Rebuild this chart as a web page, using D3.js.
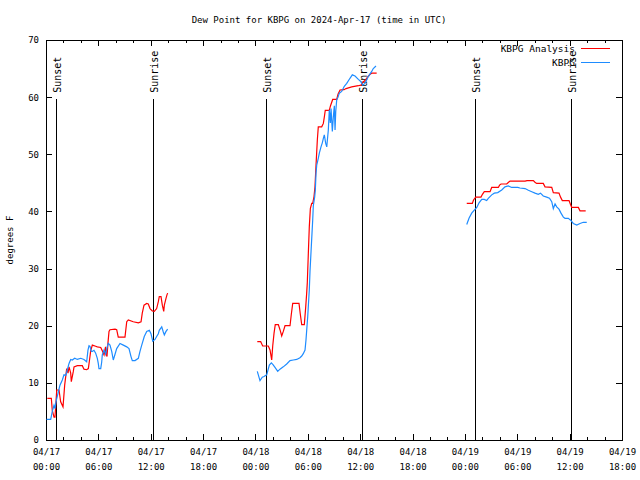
<!DOCTYPE html>
<html><head><meta charset="utf-8">
<script src="https://cdn.jsdelivr.net/npm/d3@7"></script>
<style>
html,body{margin:0;padding:0;background:#fff;}
svg{display:block;}
text{font-family:"DejaVu Sans Mono",monospace;fill:#000;}
</style></head>
<body>
<svg id="c" width="640" height="480"></svg>
<script>
// ---- data (hours after 2024-04-17 00:00 UTC; null = gap) ----
const chartTitle = "Dew Point for KBPG on 2024-Apr-17 (time in UTC)";
const yLabel = "degrees F";
const seriesNames = ["KBPG Analysis", "KBPG"];
const yTicks = [0,10,20,30,40,50,60,70];
const xTickHours = [0,6,12,18,24,30,36,42,48,54,60,66];

const analysisHours = [0.15,0.61,0.72,0.92,1.03,1.23,1.49,1.68,1.95,2.14,2.37,2.52,2.64,2.83,2.90,3.13,3.21,3.59,4.16,4.35,4.66,4.85,4.96,5.12,5.31,5.69,5.88,6.27,6.45,6.65,6.82,6.91,6.99,7.10,7.22,7.33,7.91,8.10,8.28,9.05,9.25,9.43,10.00,10.58,10.89,11.03,11.23,11.54,11.72,11.92,12.18,12.41,12.68,12.87,12.98,13.18,13.33,13.49,13.56,13.75,13.86,13.94,
 null,
 24.21,24.60,24.83,25.47,25.67,25.86,25.98,26.13,26.27,26.62,26.81,27.01,27.19,27.39,27.96,28.11,28.27,28.99,29.14,29.30,29.60,29.76,29.87,29.94,30.06,30.17,30.29,30.45,30.56,30.71,30.82,30.94,31.09,31.20,31.59,31.78,31.89,32.00,32.46,32.60,32.85,33.31,33.46,33.69,34.15,34.38,35.03,35.79,36.09,36.36,36.55,36.84,37.13,37.32,37.89,
 null,
 48.21,48.85,48.99,49.24,49.84,50.01,50.22,50.88,51.07,51.83,51.97,52.14,52.79,53.00,53.17,54.89,55.12,55.84,56.03,56.22,56.98,57.18,57.95,58.13,58.78,58.96,59.16,59.93,60.10,60.24,61.00,61.19,61.84];
const analysisValues = [7.3,7.3,5.2,4.0,4.0,8.75,8.75,6.7,5.8,9.6,12.5,11.7,12.8,11.7,10.2,12.0,12.8,13.0,13.0,12.4,12.3,12.5,13.7,15.6,16.6,16.4,16.3,16.2,15.6,14.9,16.3,15.0,14.6,17.0,19.0,19.3,19.4,19.3,18.0,18.0,20.7,21.0,20.7,20.5,20.7,22.2,23.6,23.9,23.8,23.0,22.6,22.5,23.0,24.2,25.1,25.1,23.6,22.5,23.6,24.8,25.4,25.7,
 null,
 17.2,17.2,16.45,16.45,15.75,14.0,16.5,18.7,20.2,20.2,19.3,18.2,19.0,20.0,20.0,22.0,23.9,23.9,22.0,20.2,20.2,23.3,25.7,27.5,32.7,37.3,40.5,41.4,41.4,42.6,44.3,48.1,52.5,54.8,54.8,55.4,56.5,57.7,57.7,58.5,59.6,59.6,60.5,61.25,61.3,61.5,61.8,62.0,62.1,62.7,62.9,63.5,64.0,64.2,64.2,
 null,
 41.4,41.4,42.0,42.5,42.5,43.0,43.45,43.45,44.2,44.2,44.6,44.8,44.8,45.1,45.3,45.3,45.4,45.4,45.1,44.9,44.9,44.3,44.2,43.3,43.2,42.5,41.9,41.9,41.2,40.7,40.7,40.1,40.1];

const obsHours = [0.06,0.23,0.54,0.72,0.92,1.03,1.15,1.38,1.60,1.87,2.06,2.26,2.44,2.64,2.83,3.01,3.29,3.59,3.98,4.35,4.66,4.81,4.93,5.04,5.19,5.31,5.50,5.69,5.88,5.99,6.07,6.27,6.38,6.45,6.65,6.84,6.99,7.14,7.33,7.53,7.71,7.91,8.10,8.48,8.86,9.25,9.51,9.74,9.89,10.20,10.58,10.77,10.97,11.26,11.54,11.84,12.03,12.23,12.49,12.68,12.87,12.98,13.26,13.44,13.56,13.75,13.94,
 null,
 24.21,24.52,24.78,24.98,25.29,25.59,25.82,26.01,26.24,26.55,26.81,27.19,27.58,27.96,28.34,28.73,29.10,29.30,29.48,29.68,29.79,29.91,29.99,30.10,30.17,30.25,30.37,30.48,30.56,30.63,30.79,30.86,30.94,31.02,31.20,31.32,31.51,31.66,31.78,31.89,32.05,32.17,32.26,32.35,32.46,32.58,32.66,32.81,32.92,33.04,33.12,33.20,33.31,33.46,33.61,33.88,34.18,34.46,34.83,35.10,35.41,35.79,36.09,36.29,36.55,36.93,37.32,37.50,37.81,
 null,
 48.21,48.47,48.78,49.05,49.36,49.62,49.93,50.22,50.49,50.68,51.07,51.37,51.76,52.22,52.59,52.97,53.36,54.05,54.31,54.89,55.27,55.66,56.03,56.41,56.66,56.98,57.37,57.69,57.95,58.13,58.33,58.52,58.78,59.01,59.28,59.47,59.85,60.16,60.42,60.82,61.19,61.57,61.96];
const obsValues = [3.6,3.6,3.6,5.0,6.1,5.5,6.7,8.2,9.6,10.5,11.4,11.3,12.25,13.4,14.1,14.0,14.3,14.1,14.3,14.1,13.7,15.75,16.5,16.4,15.5,15.5,15.7,15.2,14.3,13.4,12.5,12.5,13.6,14.9,15.75,15.0,16.2,16.9,16.6,15.5,14.0,15.0,16.0,16.9,16.6,16.3,16.0,14.6,13.9,13.9,14.3,15.5,16.6,18.1,19.0,19.2,18.6,17.3,17.6,18.1,18.6,19.2,19.8,18.9,18.4,19.0,19.4,
 null,
 12.0,10.4,11.0,11.1,11.4,13.1,13.5,13.2,12.7,12.0,12.4,12.8,13.3,13.9,14.0,14.1,14.4,14.7,15.1,15.75,17.5,20.0,21.6,24.5,26.3,29.5,33.0,36.2,38.5,41.0,42.6,43.75,46.7,48.1,49.3,50.2,51.3,52.0,52.8,53.4,51.9,51.3,52.8,54.25,57.75,55.5,58.0,54.0,56.5,58.5,54.25,57.5,59.5,60.0,60.7,61.0,61.9,62.4,63.3,63.9,63.7,63.1,62.7,62.1,62.4,63.6,64.5,65.0,65.45,
 null,
 37.7,38.8,39.7,40.2,40.7,41.5,42.1,42.1,41.9,42.3,42.9,43.2,43.3,43.75,44.3,44.45,44.2,44.2,44.1,44.0,43.7,43.45,43.2,43.0,43.2,42.7,42.5,42.3,41.7,40.5,41.3,40.8,40.4,39.7,39.0,38.8,38.8,38.4,37.9,37.6,37.9,38.1,38.1];

const sunsetHours = [1.15, 25.21, 49.16];
const sunriseHours = [12.26, 36.21, 60.16];
const sunLineTop = 59.7;

// ---- drawing ----
const start = Date.UTC(2024, 3, 17, 0, 0);
const toDate = h => h == null ? null : new Date(start + h * 3600e3);
const svg = d3.select("#c");
const L = 46, R = 622, T = 40, B = 440;
const x = d3.scaleUtc().domain([toDate(0), toDate(66)]).range([L, R]);
const y = d3.scaleLinear().domain([0, 70]).range([B, T]);
const fs = 9;
const mono = "DejaVu Sans Mono";

svg.append("rect").attr("width",640).attr("height",480).attr("fill","#fff");

// axes
const fmtD = d3.utcFormat("%m/%d"), fmtT = d3.utcFormat("%H:%M");
const minorHours = d3.range(0, 67, 2).filter(h => h % 6 !== 0);
function axisStyle(g){ g.attr("shape-rendering","crispEdges"); g.select(".domain").remove(); g.selectAll("line").attr("stroke","#000"); g.selectAll("text").attr("font-size",fs).attr("font-family",mono).attr("fill","#000"); }

const gx = svg.append("g").attr("transform",`translate(0,${B})`)
  .call(d3.axisBottom(x).tickValues(xTickHours.map(toDate)).tickSizeInner(-6).tickSizeOuter(0).tickPadding(9).tickFormat(fmtD));
axisStyle(gx);
gx.selectAll(".tick text").each(function(d){
  const t = d3.select(this); t.text(null);
  t.append("tspan").attr("x",0).text(fmtD(d));
  t.append("tspan").attr("x",0).attr("dy",14.5).text(fmtT(d));
});
svg.append("g").attr("transform",`translate(0,${B})`)
  .call(d3.axisBottom(x).tickValues(minorHours.map(toDate)).tickSizeInner(-3).tickSizeOuter(0).tickFormat("")).call(axisStyle);
svg.append("g").attr("transform",`translate(0,${T})`)
  .call(d3.axisTop(x).tickValues(xTickHours.map(toDate)).tickSizeInner(-6).tickSizeOuter(0).tickFormat("")).call(axisStyle);
svg.append("g").attr("transform",`translate(0,${T})`)
  .call(d3.axisTop(x).tickValues(minorHours.map(toDate)).tickSizeInner(-3).tickSizeOuter(0).tickFormat("")).call(axisStyle);
svg.append("g").attr("transform",`translate(${L},0)`)
  .call(d3.axisLeft(y).tickValues(yTicks).tickSizeInner(-6).tickSizeOuter(0).tickPadding(7).tickFormat(d3.format("d"))).call(axisStyle);
svg.append("g").attr("transform",`translate(${R},0)`)
  .call(d3.axisRight(y).tickValues(yTicks).tickSizeInner(-6).tickSizeOuter(0).tickFormat("")).call(axisStyle);

// frame
svg.append("rect").attr("x",L+0.5).attr("y",T+0.5).attr("width",R-L).attr("height",B-T)
  .attr("fill","none").attr("stroke","#000").attr("stroke-width",1);

// sun lines
const sunEvents = sunsetHours.map(h=>({h,label:"Sunset"})).concat(sunriseHours.map(h=>({h,label:"Sunrise"})));
sunEvents.forEach(e=>{
  const xp = Math.round(x(toDate(e.h))) + 0.5;
  svg.append("line").attr("x1",xp).attr("x2",xp).attr("y1",y(0)).attr("y2",y(sunLineTop))
    .attr("stroke","#000").attr("stroke-width",1).attr("shape-rendering","crispEdges");
  svg.append("text").attr("transform",`translate(${xp+4.5},${y(sunLineTop)-6}) rotate(-90)`)
    .attr("font-size",10).attr("font-family","DejaVu Sans").attr("text-anchor","start").text(e.label);
});

// series
function series(hours, values){ return hours.map((h,i)=>({t:toDate(h), v:values[i]})); }
const line = d3.line().defined(d => d.v != null && d.t != null).x(d => x(d.t)).y(d => y(d.v));
const colors = ["#ff0000", "#1e8cff"];
svg.append("path").datum(series(analysisHours, analysisValues)).attr("d",line)
  .attr("fill","none").attr("stroke",colors[0]).attr("stroke-width",1.2);
svg.append("path").datum(series(obsHours, obsValues)).attr("d",line)
  .attr("fill","none").attr("stroke",colors[1]).attr("stroke-width",1.2);

// legend
seriesNames.forEach((n,i)=>{
  const yy = 48 + i*14;
  svg.append("text").attr("x",575).attr("y",yy+3.5).attr("text-anchor","end").attr("font-size",9.5).text(n);
  svg.append("line").attr("x1",581).attr("x2",610).attr("y1",yy+0.5).attr("y2",yy+0.5)
    .attr("stroke",colors[i]).attr("stroke-width",1);
});

// title and y label
svg.append("text").attr("x",319).attr("y",23).attr("text-anchor","middle").attr("font-size",fs).text(chartTitle);
svg.append("text").attr("transform","translate(13,240) rotate(-90)").attr("text-anchor","middle").attr("font-size",fs).text(yLabel);
</script>
</body></html>
